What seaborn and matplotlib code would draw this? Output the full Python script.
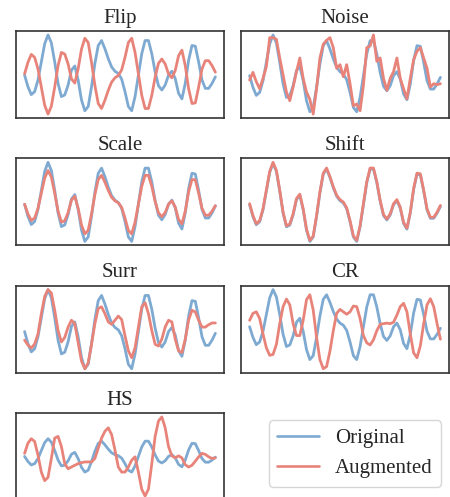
import matplotlib
matplotlib.use("Agg")
import matplotlib.pyplot as plt
from matplotlib.lines import Line2D
import numpy as np
import pandas as pd
import seaborn as sns

# ---- data ----
original = [-0.02, -0.37, -0.61, -0.52, -0.17, 0.38, 0.93, 1.20, 0.96, 0.38,
            -0.27, -0.67, -0.62, -0.32, 0.13, 0.26, -0.17, -0.77, -1.10, -0.97,
            -0.37, 0.33, 0.88, 1.03, 0.78, 0.48, 0.23, 0.10, 0.03, -0.14,
            -0.52, -0.97, -1.10, -0.67, -0.02, 0.63, 1.03, 1.03, 0.63, 0.08,
            -0.34, -0.47, -0.32, -0.02, 0.10, -0.12, -0.57, -0.74, -0.27, 0.43,
            0.88, 0.86, 0.38, -0.17, -0.42, -0.42, -0.27, -0.07]

flip = [0.02, 0.37, 0.61, 0.52, 0.17, -0.38, -0.93, -1.20, -0.96, -0.38,
        0.27, 0.67, 0.62, 0.32, -0.13, -0.26, 0.17, 0.77, 1.10, 0.97,
        0.37, -0.33, -0.88, -1.03, -0.78, -0.48, -0.23, -0.10, -0.03, 0.14,
        0.52, 0.97, 1.10, 0.67, 0.02, -0.63, -1.03, -1.03, -0.63, -0.08,
        0.34, 0.47, 0.32, 0.02, -0.10, 0.12, 0.57, 0.74, 0.27, -0.43,
        -0.88, -0.86, -0.38, 0.17, 0.42, 0.42, 0.27, 0.07]

noise = [-0.15, 0.08, -0.20, -0.41, -0.10, 0.25, 1.12, 1.12, 1.07, 0.51,
         0.00, -0.51, -0.77, -0.36, 0.10, 0.51, -0.10, -0.51, -0.73, -1.17,
         -0.41, 0.51, 0.92, 1.04, 1.12, 0.82, 0.20, 0.31, -0.05, 0.31,
         -0.26, -0.92, -0.87, -1.07, -0.31, 0.82, 0.87, 1.20, 0.41, 0.51,
         -0.10, -0.46, -0.10, 0.10, 0.51, -0.10, -0.41, -0.71, -0.10, 0.46,
         0.71, 0.82, 0.51, 0.20, -0.36, -0.26, -0.29, -0.26]

scale = [-0.02, -0.30, -0.49, -0.42, -0.14, 0.30, 0.74, 0.96, 0.77, 0.30,
         -0.22, -0.54, -0.50, -0.26, 0.10, 0.21, -0.14, -0.62, -0.88, -0.78,
         -0.30, 0.26, 0.70, 0.82, 0.62, 0.38, 0.18, 0.08, 0.02, -0.11,
         -0.42, -0.78, -0.88, -0.54, -0.02, 0.50, 0.82, 0.82, 0.50, 0.06,
         -0.27, -0.38, -0.26, -0.02, 0.08, -0.10, -0.46, -0.59, -0.22, 0.34,
         0.70, 0.69, 0.30, -0.14, -0.34, -0.34, -0.22, -0.06]

shift = [0.01, -0.34, -0.58, -0.49, -0.14, 0.41, 0.96, 1.23, 0.99, 0.41,
         -0.24, -0.64, -0.59, -0.29, 0.16, 0.29, -0.14, -0.74, -1.07, -0.94,
         -0.34, 0.36, 0.91, 1.06, 0.81, 0.51, 0.26, 0.13, 0.06, -0.11,
         -0.49, -0.94, -1.07, -0.64, 0.01, 0.66, 1.06, 1.06, 0.66, 0.11,
         -0.31, -0.44, -0.29, 0.01, 0.13, -0.09, -0.54, -0.71, -0.24, 0.46,
         0.91, 0.89, 0.41, -0.14, -0.39, -0.39, -0.24, -0.04]

surr = [-0.27, -0.41, -0.50, -0.38, -0.09, 0.50, 1.00, 1.20, 1.10, 0.60,
        0.01, -0.32, -0.19, 0.11, 0.31, 0.21, -0.34, -0.88, -1.10, -0.93,
        -0.39, 0.21, 0.65, 0.70, 0.50, 0.26, 0.19, 0.31, 0.43, 0.33,
        -0.14, -0.58, -0.78, -0.49, 0.11, 0.70, 0.82, 0.50, 0.01, -0.39,
        -0.44, -0.24, 0.11, 0.31, 0.26, -0.24, -0.58, -0.63, -0.24, 0.31,
        0.60, 0.55, 0.31, 0.11, 0.11, 0.18, 0.23, 0.23]

cr = [0.19, 0.42, 0.47, 0.25, -0.26, -0.71, -0.96, -0.93, -0.60, 0.08,
      0.64, 0.89, 0.70, 0.08, -0.31, -0.31, 0.19, 0.87, 1.03, 0.53,
      -0.37, -1.10, -1.40, -1.33, -0.82, -0.15, 0.42, 0.55, 0.47, 0.39,
      0.47, 0.66, 0.64, 0.25, -0.31, -0.55, -0.62, -0.45, -0.15, 0.06,
      0.08, 0.10, 0.08, 0.13, 0.36, 0.64, 0.75, 0.47, -0.26, -0.88,
      -1.04, -0.65, 0.08, 0.70, 0.90, 0.64, 0.08, -0.43]

hs = [0.19, 0.89, 1.20, 1.01, 0.07, -1.10, -1.69, -1.46, -0.16, 1.24,
      1.36, 0.66, -0.52, -0.87, -0.75, -0.63, -0.52, -0.45, -0.40, -0.40,
      -0.40, -0.16, 0.54, 1.24, 1.71, 1.95, 1.48, 0.42, -0.75, -1.10,
      -1.10, -0.75, -0.28, -0.05, -1.10, -2.28, -2.75, -2.28, -0.52, 1.36,
      2.42, 2.70, 1.95, 0.66, 0.02, -0.12, 0.02, -0.12, -0.59, -0.75,
      -0.63, -0.35, -0.05, 0.19, 0.12, -0.05, -0.16, -0.12]

titles = ["Flip", "Noise", "Scale", "Shift", "Surr", "CR", "HS"]
augmented = [flip, noise, scale, shift, surr, cr, hs]
series_names = ["Original", "Augmented"]

BLUE = "#7eaad2"
RED = "#e8837a"
palette = {"Original": BLUE, "Augmented": RED}

sns.set_style("white")
plt.rcParams["font.family"] = ["Liberation Serif", "DejaVu Serif"]
plt.rcParams["lines.solid_joinstyle"] = "round"
plt.rcParams["lines.solid_capstyle"] = "round"

fig = plt.figure(figsize=(4.5, 4.97), dpi=100)
gs = fig.add_gridspec(4, 2, left=16 / 450, right=449 / 450,
                      top=1 - 31 / 497, bottom=-3 / 497,
                      wspace=0.082, hspace=0.463)

t = np.arange(len(original))
for i, (name, aug) in enumerate(zip(titles, augmented)):
    ax = fig.add_subplot(gs[i // 2, i % 2])
    df = pd.DataFrame({"t": np.concatenate([t, np.arange(len(aug))]),
                       "value": list(original) + list(aug),
                       "series": ["Original"] * len(original) + ["Augmented"] * len(aug)})
    sns.lineplot(data=df, x="t", y="value", hue="series", hue_order=series_names,
                 palette=palette, linewidth=2.0, legend=False, ax=ax)
    for ln in ax.lines:
        ln.set_solid_joinstyle("round")
    ax.set_xticks([])
    ax.set_yticks([])
    ax.set_xlabel("")
    ax.set_ylabel("")
    ax.margins(x=0.045, y=0.05)
    ax.set_title(name, fontsize=15, pad=6)
    for s in ax.spines.values():
        s.set_color("0.2")
        s.set_linewidth(1.2)

lax = fig.add_subplot(gs[3, 1])
lax.axis("off")
handles = [Line2D([0], [0], color=palette[n], lw=1.9) for n in series_names]
leg = lax.legend(handles, series_names, loc="center", bbox_to_anchor=(0.548, 0.534),
                 fontsize=15, frameon=True, handlelength=2.0)
leg.get_frame().set_edgecolor("0.8")

fig.savefig("out.png", dpi=100)
